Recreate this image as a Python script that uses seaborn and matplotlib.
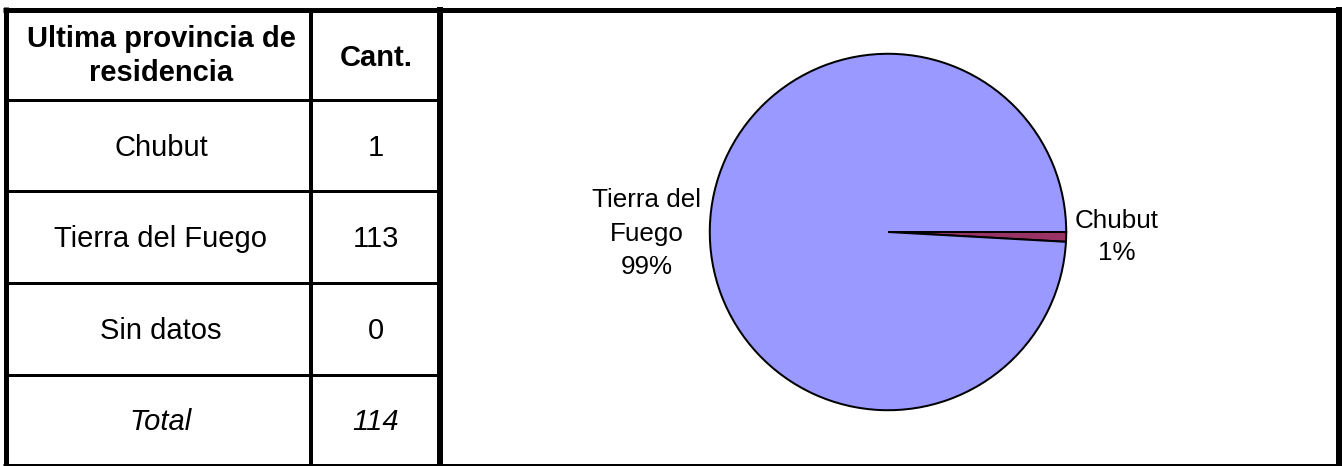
import numpy as np
import pandas as pd
import matplotlib
matplotlib.use('Agg')
import matplotlib.pyplot as plt
import seaborn as sns

sns.set_style('white')
plt.rcParams['font.family'] = ['Liberation Sans', 'DejaVu Sans']
plt.rcParams['text.color'] = 'black'

# table data
header = ['Ultima provincia de\nresidencia', 'Cant.']
provinces = ['Chubut', 'Tierra del Fuego', 'Sin datos']
counts = [1, 113, 0]
total_label = 'Total'
total = 114

# pie data (only non-zero)
pie_labels = ['Chubut', 'Tierra del\nFuego']
pie_values = [1, 113]
pie_colors = ['#993366', '#9999FF']

W, H = 1342, 466
fig = plt.figure(figsize=(W / 100, H / 100), dpi=100)

# overlay axes in pixel coords for the table grid
grid = fig.add_axes([0, 0, 1, 1])
grid.set_xlim(0, W)
grid.set_ylim(H, 0)
grid.axis('off')

px = 0.72  # points per pixel at dpi 100
col_x = [5.5, 311, 440, 1339]
row_y = [9.5, 100, 191, 283, 375, 464.5]

# outer frame
grid.plot([3, W], [row_y[0], row_y[0]], color='black', lw=5 * px, solid_capstyle='butt')
grid.plot([3, W], [row_y[-1], row_y[-1]], color='black', lw=3 * px, solid_capstyle='butt')
grid.plot([col_x[0], col_x[0]], [7, H], color='black', lw=5 * px, solid_capstyle='butt')
grid.plot([col_x[2], col_x[2]], [7, H], color='black', lw=6 * px, solid_capstyle='butt')
grid.plot([col_x[3], col_x[3]], [7, H], color='black', lw=6 * px, solid_capstyle='butt')
# inner table lines
grid.plot([col_x[1], col_x[1]], [row_y[0], row_y[-1]], color='black', lw=4 * px, solid_capstyle='butt')
for y in row_y[1:-1]:
    grid.plot([col_x[0], col_x[2]], [y, y], color='black', lw=3 * px, solid_capstyle='butt')

c1 = 161
c2 = 376
fs = 21
grid.text(c1, 56, header[0], ha='center', va='center', fontsize=fs, fontweight='bold', linespacing=1.28)
grid.text(c2, 58, header[1], ha='center', va='center', fontsize=fs, fontweight='bold')

rows_mid = [(row_y[i] + row_y[i + 1]) / 2 for i in range(1, 5)]
for name, val, y in zip(provinces, counts, rows_mid[:3]):
    grid.text(c1, y + 2, name, ha='center', va='center', fontsize=fs)
    grid.text(c2, y + 2, str(val), ha='center', va='center', fontsize=fs)
grid.text(c1, rows_mid[3] + 2, total_label, ha='center', va='center', fontsize=fs, style='italic')
grid.text(c2, rows_mid[3] + 2, str(total), ha='center', va='center', fontsize=fs, style='italic')

# pie chart
cx, cy, r = 888, 232, 180
pax = fig.add_axes([(cx - r) / W, (H - cy - r) / H, 2 * r / W, 2 * r / H])
pax.pie(pie_values, colors=pie_colors, startangle=0, counterclock=False,
        wedgeprops=dict(edgecolor='black', linewidth=2 * px), radius=1)
pax.set_xlim(-1.01, 1.01)
pax.set_ylim(-1.01, 1.01)
pax.set_aspect('equal')
pax.axis('off')

pct = [round(v / total * 100) for v in pie_values]
pax.text(1.285, -0.03, f'{pie_labels[0]}\n{pct[0]}%', ha='center', va='center',
         fontsize=18.7, linespacing=1.42, clip_on=False)
pax.text(-1.355, -0.01, f'{pie_labels[1]}\n{pct[1]}%', ha='center', va='center',
         fontsize=18.7, linespacing=1.5, clip_on=False)

fig.savefig('out.png', dpi=100)
